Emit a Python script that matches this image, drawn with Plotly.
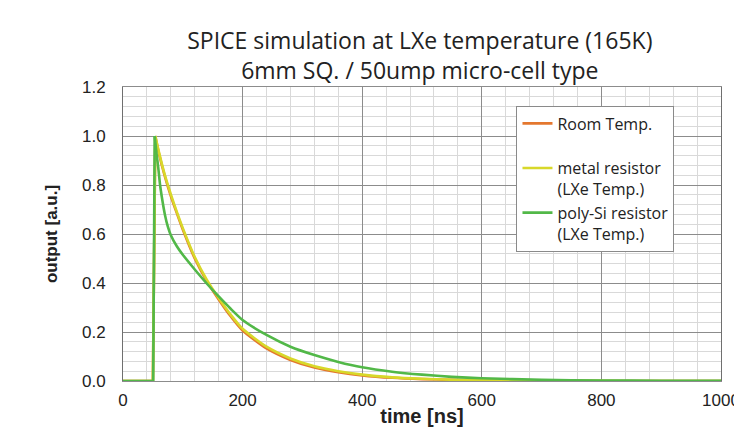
import plotly.graph_objects as go

# time axis samples [ns]
t_room = [0, 50, 54, 60, 70, 80, 90, 100, 120, 140, 160, 180, 200, 240, 280, 320, 360, 400, 450, 500, 550, 600, 700, 800, 900, 1000]
room = [0, 0, 1.0, 0.93, 0.835, 0.755, 0.685, 0.618, 0.5, 0.408, 0.333, 0.264, 0.206, 0.133, 0.086, 0.055, 0.036, 0.023, 0.013, 0.0075, 0.0045, 0.0026, 0.0009, 0.0003, 0.0001, 0]

t_metal = [0, 50, 54, 60, 70, 80, 90, 100, 120, 140, 160, 180, 200, 240, 280, 320, 360, 400, 450, 500, 550, 600, 700, 800, 900, 1000]
metal = [0, 0, 1.0, 0.935, 0.84, 0.762, 0.69, 0.624, 0.506, 0.414, 0.339, 0.271, 0.213, 0.14, 0.092, 0.06, 0.04, 0.026, 0.015, 0.009, 0.005, 0.003, 0.001, 0.0004, 0.0001, 0]

t_poly = [0, 50.5, 53, 56, 59, 62, 65, 70, 75, 80, 90, 100, 120, 140, 160, 180, 200, 240, 280, 320, 360, 400, 450, 500, 550, 600, 700, 800, 900, 1000]
poly = [0, 0, 1.0, 0.93, 0.87, 0.80, 0.75, 0.68, 0.63, 0.595, 0.55, 0.515, 0.455, 0.398, 0.345, 0.295, 0.249, 0.188, 0.14, 0.106, 0.078, 0.056, 0.038, 0.026, 0.017, 0.011, 0.005, 0.002, 0.001, 0.0005]

names = ["Room Temp.<br> ", "metal resistor<br>(LXe Temp.)", "poly-Si resistor<br>(LXe Temp.)"]
colors = ["#E4772E", "#D8D82A", "#52B848"]

fig = go.Figure()
for tx, ys, nm, c in zip([t_room, t_metal, t_poly], [room, metal, poly], names, colors):
    # baseline and sharp rise up to the peak (straight segments)
    fig.add_trace(go.Scatter(x=tx[:3], y=ys[:3], mode="lines", name=nm, showlegend=False,
                             legendgroup=nm, hoverinfo="skip",
                             line=dict(color=c, width=2.6)))
    # smooth decay from the peak onwards
    fig.add_trace(go.Scatter(x=tx[2:], y=ys[2:], mode="lines", name=nm, legendgroup=nm,
                             line=dict(color=c, width=2.6, shape="spline", smoothing=0.6)))

fig.update_layout(
    width=734, height=427,
    margin=dict(l=123, r=12.5, t=87, b=45.5, autoexpand=False),
    paper_bgcolor="white", plot_bgcolor="white",
    title=dict(text="SPICE simulation at LXe temperature (165K)<br>6mm SQ. / 50ump micro-cell type",
               x=0.572, xanchor="center", y=0.885, yanchor="middle",
               font=dict(family="Open Sans", size=23, color="#222222")),
    legend=dict(x=0.658, xanchor="left", y=0.937, yanchor="top",
                bordercolor="#8a8a8a", borderwidth=1, bgcolor="white",
                valign="top", tracegroupgap=0,
                font=dict(family="Open Sans", size=16, color="#222222")),
    showlegend=True,
)

fig.update_xaxes(range=[0, 1000], dtick=200, tick0=0,
                 showgrid=True, gridcolor="#8c8c8c", gridwidth=1,
                 minor=dict(dtick=40, showgrid=True, gridcolor="#d9d9d9", gridwidth=1),
                 showline=True, linecolor="#8c8c8c", mirror=True,
                 zeroline=False, ticks="", automargin=False, ticklabeloverflow="allow",
                 ticklabelstandoff=4,
                 tickfont=dict(family="Liberation Sans", size=17, color="#222222"),
                 title=dict(text="<b>time [ns]</b>", standoff=36,
                            font=dict(family="Liberation Sans", size=20, color="#222222")))
fig.update_yaxes(range=[0, 1.2], dtick=0.2, tick0=0, tickformat=".1f",
                 showgrid=True, gridcolor="#8c8c8c", gridwidth=1,
                 minor=dict(dtick=0.04, showgrid=True, gridcolor="#d9d9d9", gridwidth=1),
                 showline=True, linecolor="#6f6f6f", mirror=True,
                 zeroline=False, ticks="", ticklabelstandoff=13, automargin=False,
                 tickfont=dict(family="Liberation Sans", size=17, color="#222222"),
                 title=dict(text="<b>output [a.u.]</b>", standoff=20,
                            font=dict(family="Liberation Sans", size=17, color="#222222")))

fig.write_html("out.html")
